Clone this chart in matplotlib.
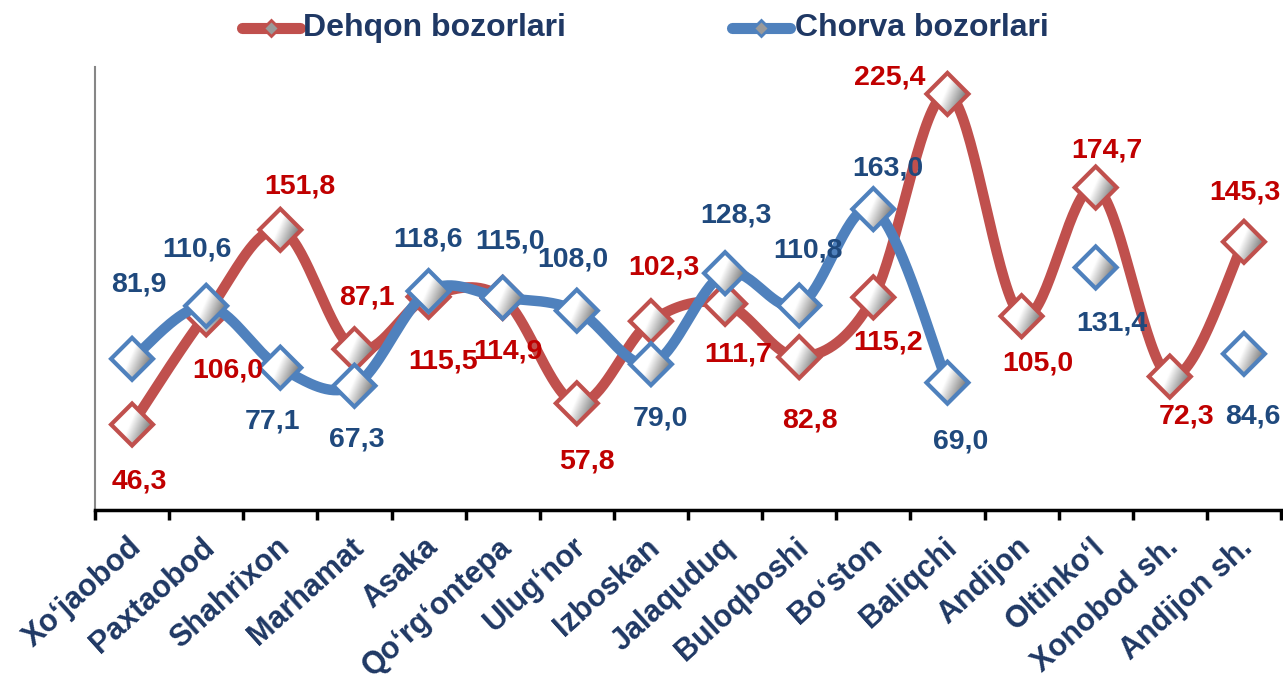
import numpy as np
import matplotlib
matplotlib.use('Agg')
import matplotlib.pyplot as plt
from matplotlib.patches import Polygon
from matplotlib.lines import Line2D
from matplotlib.transforms import ScaledTranslation

# ---------------- data ----------------
categories = ["Xo\u2018jaobod", "Paxtaobod", "Shahrixon", "Marhamat", "Asaka",
              "Qo\u2018rg\u2018ontepa", "Ulug\u2018nor", "Izboskan", "Jalaquduq",
              "Buloqboshi", "Bo\u2018ston", "Baliqchi", "Andijon", "Oltinko\u2018l",
              "Xonobod sh.", "Andijon sh."]
dehqon = [46.3, 106.0, 151.8, 87.1, 115.5, 114.9, 57.8, 102.3, 111.7, 82.8,
          115.2, 225.4, 105.0, 174.7, 72.3, 145.3]
chorva = [81.9, 110.6, 77.1, 67.3, 118.6, 115.0, 108.0, 79.0, 128.3, 110.8,
          163.0, 69.0, None, 131.4, None, 84.6]
series_names = ["Dehqon bozorlari", "Chorva bozorlari"]

# label placement (pixel offsets from marker: dx right, dy down)
red_offsets = [(7, 57), (22, 56), (20, -43), (12, -52), (14, 65), (5, 54), (10, 58),
               (13, -54), (13, 51), (11, 63), (15, 45), (-58, -16), (16, 47),
               (11, -37), (17, 40), (1, -49)]
blue_offsets = [(7, -74), (-9, -56), (-8, 54), (2, 54), (-1, -52), (7, -56), (-4, -51),
                (9, 54), (11, -58), (9, -55), (15, -41), (13, 59), None, (16, 56),
                None, (9, 63)]

# ---------------- style ----------------
RED_LINE = '#C0504D'
BLUE_LINE = '#4F81BD'
RED_TXT = '#C00000'
BLUE_TXT = '#1F497D'
NAVY = '#1F3864'
FONT = 'Liberation Sans'

plt.rcParams['font.family'] = [FONT, 'DejaVu Sans']

W, H = 1283, 682
fig = plt.figure(figsize=(W / 100, H / 100), dpi=100)
ax = fig.add_axes([95 / W, 1 - 510 / H, 1186 / W, (510 - 67) / H])
ax.set_xlim(-0.5, len(categories) - 0.5)
ax.set_ylim(0, 240)
ax.set_autoscale_on(False)


def smooth_segments(values):
    """Catmull-Rom (Excel-like) smoothing for each contiguous run of values."""
    runs, cur = [], []
    for i, v in enumerate(values):
        if v is None:
            if cur:
                runs.append(cur)
            cur = []
        else:
            cur.append((i, v))
    if cur:
        runs.append(cur)
    out = []
    for run in runs:
        if len(run) < 2:
            continue
        P = np.array(run, dtype=float)
        xs, ys = [], []
        n = len(P)
        t = np.linspace(0, 1, 40)
        for k in range(n - 1):
            p0 = P[k - 1] if k > 0 else P[k]
            p1 = P[k]
            p2 = P[k + 1]
            p3 = P[k + 2] if k + 2 < n else P[k + 1]
            c1 = p1 + (p2 - p0) / 6.0
            c2 = p2 - (p3 - p1) / 6.0
            b = ((1 - t) ** 3)[:, None] * p1 + (3 * (1 - t) ** 2 * t)[:, None] * c1 \
                + (3 * (1 - t) * t ** 2)[:, None] * c2 + (t ** 3)[:, None] * p2
            xs.extend(b[:, 0]); ys.extend(b[:, 1])
        out.append((xs, ys))
    return out


# gradient for marker faces
ng = 60
u = np.linspace(-1, 1, ng)
U, V = np.meshgrid(u, u)
tt = np.clip(0.8 * U - 0.35 * V + 0.1, 0, 1)
g = 1 - 0.6 * tt
grad = np.dstack([g, g, g])

HALF = 0.21  # inches, half diagonal of marker


def draw_markers(values, edge, z):
    for i, v in enumerate(values):
        if v is None:
            continue
        tr = fig.dpi_scale_trans + ScaledTranslation(i, v, ax.transData)
        verts = [(-HALF, 0), (0, HALF), (HALF, 0), (0, -HALF)]
        clip = Polygon(verts, closed=True, transform=tr, facecolor='none', edgecolor='none')
        im = ax.imshow(grad, extent=[-HALF, HALF, -HALF, HALF], transform=tr,
                       origin='lower', aspect='auto', interpolation='bilinear', zorder=z)
        im.set_clip_path(clip)
        ax.add_patch(Polygon(verts, closed=True, transform=tr, facecolor='none',
                             edgecolor=edge, linewidth=3.0, joinstyle='miter', zorder=z + 0.1))


for (xs, ys) in smooth_segments(dehqon):
    ax.plot(xs, ys, color=RED_LINE, lw=7.5, solid_capstyle='round', solid_joinstyle='round', zorder=2)
draw_markers(dehqon, RED_LINE, 3)
for (xs, ys) in smooth_segments(chorva):
    ax.plot(xs, ys, color=BLUE_LINE, lw=7.5, solid_capstyle='round', solid_joinstyle='round', zorder=4)
draw_markers(chorva, BLUE_LINE, 5)


def fmt(v):
    return f"{v:.1f}".replace('.', ',')


for i, v in enumerate(dehqon):
    dx, dy = red_offsets[i]
    ax.annotate(fmt(v), (i, v), xytext=(dx, -dy), textcoords='offset pixels',
                ha='center', va='center', fontsize=20.5, fontweight='bold',
                color=RED_TXT, zorder=7, annotation_clip=False)
for i, v in enumerate(chorva):
    if v is None:
        continue
    dx, dy = blue_offsets[i]
    ax.annotate(fmt(v), (i, v), xytext=(dx, -dy), textcoords='offset pixels',
                ha='center', va='center', fontsize=20.5, fontweight='bold',
                color=BLUE_TXT, zorder=7, annotation_clip=False)

# axes styling
for s in ['top', 'right']:
    ax.spines[s].set_visible(False)
ax.spines['left'].set_color('#868686')
ax.spines['left'].set_linewidth(1.5)
ax.spines['bottom'].set_color('black')
ax.spines['bottom'].set_linewidth(2.5)
ax.set_yticks([])
ax.set_xticks(range(len(categories)))
ax.set_xticks(np.arange(-0.5, len(categories), 1.0), minor=True)
ax.tick_params(axis='x', which='major', length=0, pad=16)
ax.tick_params(axis='x', which='minor', length=7, width=2.5, color='black', direction='out')
ax.set_xticklabels(categories, rotation=42, ha='right', va='top', rotation_mode='anchor',
                   fontsize=22, fontweight='bold', color=NAVY)
for lab in ax.get_xticklabels():
    lab.set_transform(lab.get_transform() + ScaledTranslation(-0.05, 0, fig.dpi_scale_trans))

# legend (manual)
ly = 1 - 28 / H
for (x0, x1, tx), col, name in [((242, 300, 303), RED_LINE, series_names[0]),
                                 ((732, 790, 795), BLUE_LINE, series_names[1])]:
    fig.add_artist(Line2D([x0 / W, x1 / W], [ly, ly], transform=fig.transFigure,
                          color=col, lw=8, solid_capstyle='round'))
    fig.add_artist(Line2D([(x0 + x1) / 2 / W], [ly], transform=fig.transFigure,
                          marker='D', ms=8, mfc='#9a9a9a', mec=col, mew=2, lw=0))
    fig.text(tx / W, ly, name, ha='left', va='center', fontsize=23, fontweight='bold',
             color=NAVY)

fig.savefig('out.png', dpi=100)
